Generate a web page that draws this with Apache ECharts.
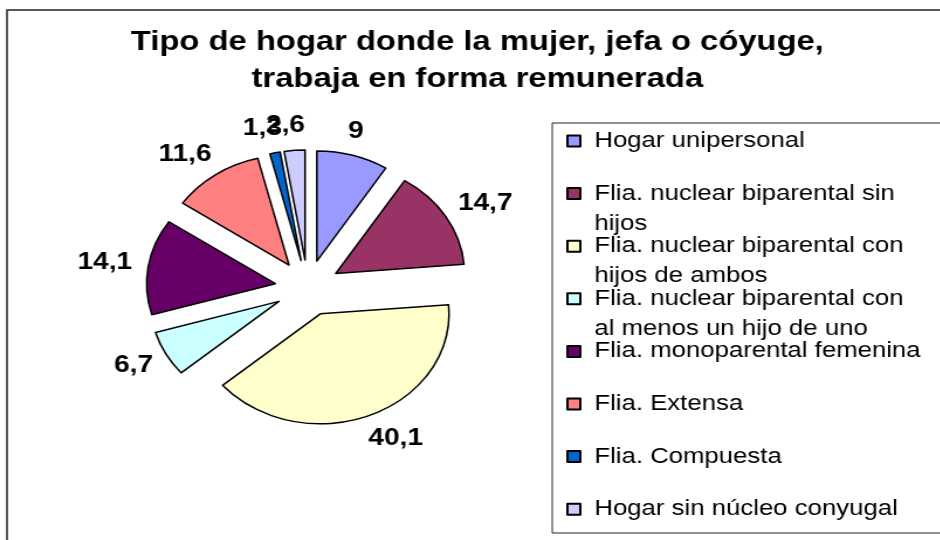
<!DOCTYPE html>
<html>
<head>
<meta charset="utf-8">
<script src="https://cdn.jsdelivr.net/npm/echarts@6/dist/echarts.min.js"></script>
<style>
  html, body { margin: 0; padding: 0; background: #fff; overflow: hidden; }
  /* the source picture is stretched sideways, so the pie is an ellipse */
  #chart { width: 804px; height: 540px; transform: scaleX(1.17); transform-origin: 0 0; }
</style>
</head>
<body>
<div id="chart"></div>
<script>
const categories = [
  'Hogar unipersonal',
  'Flia. nuclear biparental sin\nhijos',
  'Flia. nuclear biparental con\nhijos de ambos',
  'Flia. nuclear biparental con\nal menos un hijo de uno',
  'Flia. monoparental femenina',
  'Flia. Extensa',
  'Flia. Compuesta',
  'Hogar sin núcleo conyugal'
]
const values = [9, 14.7, 40.1, 6.7, 14.1, 11.6, 1.3, 2.6]
const colors = ['#9999FF', '#993366', '#FFFFCC', '#CCFFFF', '#660066', '#FF8080', '#0066CC', '#CCCCFF']
const titleText = 'Tipo de hogar donde la mujer, jefa o cóyuge,\ntrabaja en forma remunerada'

const font = '"Liberation Sans", Arial, sans-serif'
const chart = echarts.init(document.getElementById('chart'))

// one legend per entry so the rows keep the even spacing of the original
const legends = categories.map((name, i) => {
  const lines = name.split('\n').length
  return {
    data: [{ name: name, icon: 'rect' }],
    orient: 'vertical',
    left: 484,
    top: 141 + 52.6 * i - (2 * lines - 1) * 15,
    padding: 0,
    itemWidth: 11,
    itemHeight: 11,
    selectedMode: false,
    // blank lines above keep the swatch level with the first text line
    formatter: (n) => '\n'.repeat(lines - 1) + n,
    textStyle: { fontFamily: font, fontSize: 22, lineHeight: 30, color: '#000', padding: [0, 0, 0, 7] }
  }
})

chart.setOption({
  animation: false,
  title: {
    text: titleText,
    left: 408,
    top: 24,
    textAlign: 'center',
    padding: 0,
    textStyle: { fontFamily: font, fontSize: 28, fontWeight: 'bold', lineHeight: 37, color: '#000' }
  },
  legend: legends,
  graphic: [
    { type: 'rect', silent: true, z: -1, shape: { x: 6, y: 10, width: 820, height: 560 },
      style: { fill: 'none', stroke: '#222', lineWidth: 1.5 } },
    { type: 'rect', silent: true, z: -1, shape: { x: 472, y: 123, width: 340, height: 410 },
      style: { fill: '#fff', stroke: '#222', lineWidth: 1 } }
  ],
  series: [
    {
      type: 'pie',
      center: [263, 288],
      radius: 110,
      startAngle: 90,
      clockwise: true,
      selectedMode: 'multiple',
      selectedOffset: 28,
      avoidLabelOverlap: false,
      labelLayout: { hideOverlap: false },
      itemStyle: { borderColor: '#000', borderWidth: 1.5 },
      emphasis: { disabled: true },
      label: {
        position: 'outside',
        formatter: (p) => String(p.value).replace('.', ','),
        fontFamily: font,
        fontSize: 24,
        fontWeight: 'bold',
        color: '#000',
        distanceToLabelLine: -11
      },
      labelLine: { show: false, length: 25, length2: 0 },
      data: categories.map((name, i) => ({
        name: name,
        value: values[i],
        selected: true,
        itemStyle: { color: colors[i] }
      }))
    }
  ]
})
</script>
</body>
</html>
